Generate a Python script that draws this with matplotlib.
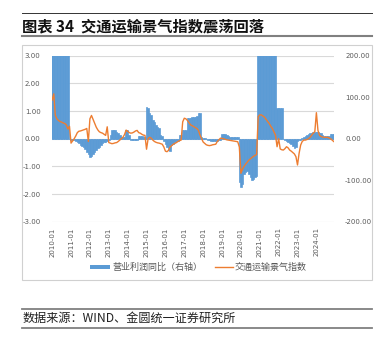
import matplotlib
matplotlib.use("Agg")
import matplotlib.pyplot as plt
import numpy as np
from matplotlib.patches import Rectangle
from matplotlib.lines import Line2D

plt.rcParams['font.family'] = ['Noto Sans CJK SC', 'DejaVu Sans']

years = list(range(2010, 2025))
tick_labels = [f"{y}-01" for y in years]

# 交通运输景气指数 (left axis), monthly 2010-01 .. 2024-12
index_vals = [
    1.40, 1.62, 0.85, 0.72, 0.66, 0.62, 0.60, 0.57, 0.55, 0.50, 0.35, 0.45,
    -0.16, -0.08, 0.00, 0.10, 0.22, 0.27, 0.28, 0.30, 0.32, 0.34, 0.37, -0.10,
    0.72, 0.84, 0.70, 0.55, 0.42, 0.32, 0.25, 0.22, 0.20, 0.16, 0.12, 0.43,
    -0.14, -0.16, -0.18, -0.17, -0.15, -0.14, -0.10, -0.05, 0.00, 0.05, 0.15, 0.31,
    0.27, 0.22, 0.20, 0.21, 0.24, 0.28, 0.30, 0.22, 0.20, 0.16, 0.13, 0.12,
    -0.38, 0.00, 0.05, 0.02, -0.05, -0.10, -0.13, -0.15, -0.16, -0.18, -0.20, -0.30,
    -0.45, -0.47, -0.42, -0.30, -0.25, -0.20, -0.17, -0.14, -0.10, -0.07, -0.05, 0.61,
    0.74, 0.72, 0.66, 0.58, 0.50, 0.47, 0.44, 0.40, 0.37, 0.30, 0.13, 0.00,
    -0.12, -0.17, -0.22, -0.24, -0.25, -0.24, -0.22, -0.21, -0.20, -0.10, -0.04, 0.02,
    0.01, 0.00, -0.02, -0.04, -0.05, -0.06, -0.07, -0.08, -0.09, -0.10, -0.11, -0.30,
    -1.25, -1.10, -1.00, -0.92, -0.85, -0.78, -0.73, -0.68, -0.64, -0.60, -0.57, 0.80,
    0.86, 0.86, 0.82, 0.78, 0.70, 0.62, 0.55, 0.45, 0.37, 0.25, 0.13, -0.29,
    0.00, -0.37, -0.40, -0.41, -0.36, -0.29, -0.33, -0.41, -0.45, -0.50, -0.55, -0.65,
    -0.95, -0.53, -0.23, -0.10, -0.05, -0.05, -0.03, 0.00, 0.05, 0.13, 0.20, 0.25,
    0.94, 0.30, 0.12, 0.08, 0.06, 0.05, 0.05, 0.05, 0.03, 0.00, -0.05, -0.10,
]

# 营业利润同比 (right axis, %), values above 200 are clipped in the chart
profit_yoy = [
    250, 250, 250, 250, 250, 250, 250, 250, 250, 250, 250, 0,
    -2, -3, -3, -5, -7, -10, -14, -17, -21, -26, -32, -37,
    -45, -42, -38, -32, -27, -23, -19, -15, -11, -9, -7, -5,
    -3, 10, 21, 21, 20, 15, 13, 10, 5, 4, 5, 22,
    22, 10, -3, -3, -3, -3, -3, 7, 7, 7, 5, 5,
    77, 74, 62, 58, 45, 40, 32, 29, 25, 8, 6, -5,
    -12, -20, -28, -30, -15, -12, -8, -6, -5, 8, 8, 21,
    21, 21, 50, 51, 51, 52, 52, 53, 55, 61, 61, 5,
    2, 2, 0, -3, -4, -5, -5, -5, -5, -5, -4, -3,
    11, 12, 11, 10, 6, 5, 5, 5, 4, 4, 3, -105,
    -117, -110, -85, -80, -78, -85, -92, -100, -97, -93, -90, 250,
    250, 250, 250, 250, 250, 250, 250, 250, 250, 250, 250, 75,
    75, 75, 75, 0, -3, -5, -8, -10, -12, -18, -23, -20,
    -5, -3, -2, 2, 5, 7, 10, 12, 14, 14, 15, 15,
    15, 16, 14, 13, 10, 7, 6, 6, 6, 11, 12, 12,
]

title = "图表 34  交通运输景气指数震荡回落"
source = "数据来源：WIND、金圆统一证券研究所"
legend_bar = "营业利润同比（右轴）"
legend_line = "交通运输景气指数"

BLUE = "#5B9BD5"
ORANGE = "#ED7D31"
GRAY_TXT = "#595959"
GRID = "#D9D9D9"

W, H = 384, 353
fig = plt.figure(figsize=(W / 100, H / 100), dpi=100)

def fx(px):
    return px / W

def fy(py):
    return 1 - py / H

left, right, top, bottom = 51.7, 334.0, 55.7, 221.7
ax = fig.add_axes([fx(left), fy(bottom), fx(right) - fx(left), fy(top) - fy(bottom)])
ax2 = ax.twinx()

x = np.arange(len(index_vals))
ax2.bar(x, profit_yoy, width=1.0, color=BLUE, edgecolor=BLUE, linewidth=0.5, zorder=2)
ax.plot(x, index_vals, color=ORANGE, lw=1.0)

ax.set_zorder(ax2.get_zorder() + 1)
ax.patch.set_visible(False)

ax.set_xlim(-0.3, 179.2)
ax.set_ylim(-3, 3)
ax2.set_ylim(-200, 200)

ax.set_yticks(np.arange(-3, 3.01, 1))
ax.set_yticklabels([f"{v:.2f}" for v in np.arange(-3, 3.01, 1)])
ax2.set_yticks(np.arange(-200, 201, 100))
ax2.set_yticklabels([f"{v:.2f}" for v in np.arange(-200, 201, 100)])

ax.set_xticks(np.arange(0, 180, 12))
ax.set_xticklabels(tick_labels, rotation=90)

for a in (ax, ax2):
    for s in a.spines.values():
        s.set_visible(False)
    a.tick_params(length=0, colors=GRAY_TXT, labelsize=5)
    for lab in a.get_xticklabels() + a.get_yticklabels():
        lab.set_family(['DejaVu Sans'])
ax.tick_params(axis='y', pad=8)
ax2.tick_params(axis='y', pad=8)
ax.tick_params(axis='x', pad=4)

ax.yaxis.grid(False)
ax2.grid(False)
for v in np.arange(-3, 3.01, 1):
    ax2.axhline(v * 200 / 3, color=GRID, lw=0.8, zorder=0)

# chart frame
fig.patches.append(Rectangle((fx(22), fy(280)), fx(372) - fx(22), fy(45) - fy(280),
                             transform=fig.transFigure, fill=False, edgecolor="#D0D0D0", lw=0.8))

# header lines & title
fig.add_artist(Line2D([fx(22), fx(372)], [fy(13.3), fy(13.3)], color="#333333", lw=0.7))
fig.add_artist(Line2D([fx(22), fx(372)], [fy(36), fy(36)], color="#808080", lw=1.5))
fig.text(fx(22), fy(26), title, fontsize=11, fontweight='bold', color="#111111",
         ha='left', va='center')

# legend
fig.patches.append(Rectangle((fx(90), fy(269)), fx(110) - fx(90), fy(265) - fy(269),
                             transform=fig.transFigure, color=BLUE, lw=0))
fig.text(fx(112), fy(267), legend_bar, fontsize=6.5, color=GRAY_TXT, ha='left', va='center')
fig.add_artist(Line2D([fx(215), fx(233)], [fy(267), fy(267)], color=ORANGE, lw=1.0))
fig.text(fx(235), fy(267), legend_line, fontsize=6.5, color=GRAY_TXT, ha='left', va='center')

# source
fig.add_artist(Line2D([fx(22), fx(372)], [fy(309.3), fy(309.3)], color="#808080", lw=1.3))
fig.add_artist(Line2D([fx(22), fx(372)], [fy(327.7), fy(327.7)], color="#808080", lw=1.3))
fig.text(fx(22.7), fy(318.5), source, fontsize=8.7, color="#222222", ha='left', va='center')

fig.savefig("out.png", dpi=100)
